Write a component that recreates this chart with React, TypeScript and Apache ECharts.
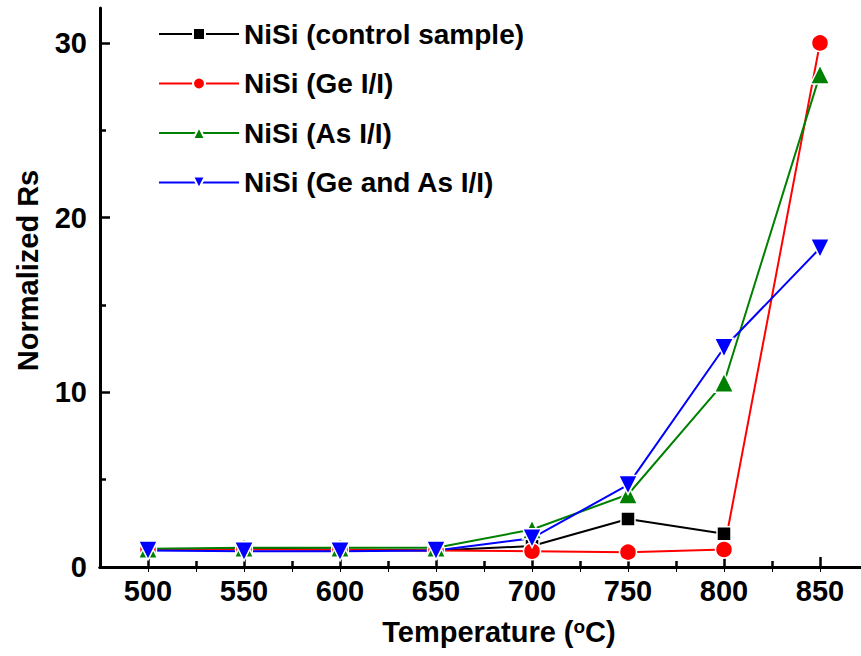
import React, { useEffect, useRef } from "react";
import * as echarts from "echarts";

const temps = [500, 550, 600, 650, 700, 750, 800, 850];
const controlRs = [1.0, 1.05, 1.0, 0.95, 1.2, 2.75, 1.9, null];
const geRs = [1.0, 1.0, 0.98, 0.95, 0.9, 0.85, 1.0, 30.0];
const asRs = [1.05, 1.1, 1.1, 1.1, 2.15, 4.15, 10.55, 28.2];
const geAsRs = [0.95, 0.9, 0.9, 0.95, 1.65, 4.7, 12.55, 18.25];
const seriesNames = [
  "NiSi (control sample)",
  "NiSi (Ge I/I)",
  "NiSi (As I/I)",
  "NiSi (Ge and As I/I)",
];
const xMajor = [500, 550, 600, 650, 700, 750, 800, 850];
const xMinor = [525, 575, 625, 675, 725, 775, 825];
const xAllTicks = [500, 525, 550, 575, 600, 625, 650, 675, 700, 725, 750, 775, 800, 825, 850];
const yMajor = [0, 10, 20, 30];
const yMinor = [5, 15, 25];

const FONT = "'Liberation Sans', Arial, Helvetica, sans-serif";

export default function App() {
  const ref = useRef<HTMLDivElement>(null);
  useEffect(() => {
    if (!ref.current) return;
    const chart = echarts.init(ref.current, undefined, { renderer: "svg" });
    const pairs = (vals: (number | null)[]) =>
      temps.map((t, i) => [t, vals[i] === null ? "-" : vals[i]]);
    const mk = (
      name: string,
      vals: (number | null)[],
      color: string,
      symbol: string,
      size: number,
      rotate = 0
    ) => ({
      name,
      type: "line",
      xAxisIndex: 0,
      yAxisIndex: 0,
      data: pairs(vals),
      symbol,
      symbolSize: size,
      symbolRotate: rotate,
      showAllSymbol: true,
      lineStyle: { color, width: 2 },
      itemStyle: { color, borderColor: "#fff", borderWidth: 1.5, opacity: 1 },
      emphasis: { disabled: true },
      connectNulls: false,
      z: 3,
    });
    const gridBox = { left: 100, top: 8, right: 7, bottom: 89 };
    chart.setOption({
      animation: false,
      backgroundColor: "#fff",
      grid: [
        { ...gridBox, containLabel: false },
        { ...gridBox, containLabel: false },
      ],
      legend: {
        left: 153,
        top: 15,
        orient: "vertical",
        itemWidth: 80,
        itemHeight: 15,
        itemGap: 21.5,
        data: seriesNames,
        textStyle: {
          fontFamily: FONT,
          fontWeight: "bold",
          fontSize: 28,
          color: "#000",
          padding: [0, 0, 0, 0],
          lineHeight: 28,
        },
      },
      xAxis: [
        {
          type: "value",
          gridIndex: 0,
          position: "bottom",
          min: 475,
          max: 875,
          name: "Temperature ({sup|o}C)",
          nameLocation: "middle",
          nameGap: 50,
          nameTextStyle: {
            fontFamily: FONT,
            fontWeight: "bold",
            fontSize: 29,
            color: "#000",
            padding: [0, 0, 0, 30],
            rich: {
              sup: {
                fontFamily: FONT,
                fontSize: 19,
                fontWeight: "bold",
                color: "#000",
                verticalAlign: "top",
                padding: [0, 0, 10, 0],
              },
            },
          },
          axisLine: { show: true, lineStyle: { color: "#000", width: 3 } },
          axisTick: {
            show: true,
            inside: true,
            length: 10,
            lineStyle: { color: "#000", width: 2.5 },
            customValues: xMajor,
          },
          axisLabel: {
            show: true,
            customValues: xMajor,
            margin: 9,
            fontFamily: FONT,
            fontWeight: "bold",
            fontSize: 29,
            color: "#000",
          },
          splitLine: { show: false },
        },
        {
          type: "value",
          gridIndex: 0,
          position: "top",
          min: 475,
          max: 875,
          axisLine: { show: true, lineStyle: { color: "#000", width: 3 } },
          axisTick: {
            show: true,
            inside: true,
            length: 5,
            lineStyle: { color: "#000", width: 1 },
            customValues: xAllTicks,
          },
          axisLabel: { show: false },
          splitLine: { show: false },
        },
        {
          type: "value",
          gridIndex: 1,
          position: "bottom",
          min: 475,
          max: 875,
          axisLine: { show: false },
          axisTick: {
            show: true,
            inside: true,
            length: 6,
            lineStyle: { color: "#000", width: 2.5 },
            customValues: xMinor,
          },
          axisLabel: { show: false },
          splitLine: { show: false },
        },
      ],
      yAxis: [
        {
          type: "value",
          gridIndex: 0,
          position: "left",
          min: 0,
          max: 32,
          name: "Normalized Rs",
          nameLocation: "middle",
          nameGap: 58,
          nameTextStyle: {
            fontFamily: FONT,
            fontWeight: "bold",
            fontSize: 29,
            color: "#000",
            padding: [0, 0, 0, 34],
          },
          axisLine: { show: true, lineStyle: { color: "#000", width: 3 } },
          axisTick: {
            show: true,
            inside: true,
            length: 10,
            lineStyle: { color: "#000", width: 2.5 },
            customValues: yMajor,
          },
          axisLabel: {
            show: true,
            customValues: yMajor,
            margin: 13,
            fontFamily: FONT,
            fontWeight: "bold",
            fontSize: 29,
            color: "#000",
          },
          splitLine: { show: false },
        },
        {
          type: "value",
          gridIndex: 0,
          position: "right",
          min: 0,
          max: 32,
          axisLine: { show: true, lineStyle: { color: "#000", width: 3 } },
          axisTick: { show: false },
          axisLabel: { show: false },
          splitLine: { show: false },
        },
        {
          type: "value",
          gridIndex: 1,
          position: "left",
          min: 0,
          max: 32,
          axisLine: { show: false },
          axisTick: {
            show: true,
            inside: true,
            length: 6,
            lineStyle: { color: "#000", width: 2.5 },
            customValues: yMinor,
          },
          axisLabel: { show: false },
          splitLine: { show: false },
        },
      ],
      series: [
        mk(seriesNames[0], controlRs, "#000000", "rect", 14),
        mk(seriesNames[1], geRs, "#ff0000", "circle", 17),
        mk(seriesNames[2], asRs, "#008000", "triangle", 19),
        mk(seriesNames[3], geAsRs, "#0000ff", "triangle", 19, 180),
      ],
    });
    return () => chart.dispose();
  }, []);
  return (
    <div
      style={{
        position: "absolute",
        left: 0,
        top: 0,
        width: 861,
        height: 656,
        overflow: "hidden",
        background: "#fff",
      }}
    >
      <div ref={ref} style={{ width: 875, height: 656 }} />
    </div>
  );
}
